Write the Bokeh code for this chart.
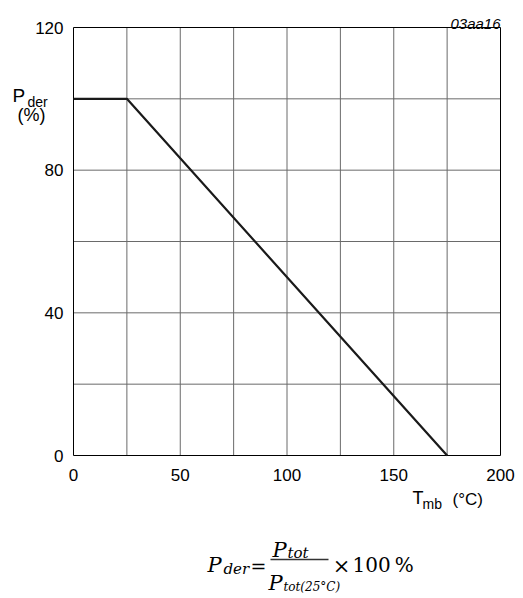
from bokeh.plotting import figure
from bokeh.models import Range1d, Label
from bokeh.embed import file_html
from bokeh.resources import INLINE
from bokeh.core.properties import value

# ---- data ----
temp_mb = [0, 25, 175]          # T_mb (°C)
p_der = [100, 100, 0]           # P_der (%)
x_ticks = [0, 50, 100, 150, 200]
y_ticks = [0, 40, 80, 120]
x_tick_labels = ["0", "50", "100", "150", "200"]
y_tick_labels = ["0", "40", "80", "120"]
x_grid = [25, 50, 75, 100, 125, 150, 175]
y_grid = [20, 40, 60, 80, 100]
x_min, x_max = 0, 200
y_min, y_max = 0, 120

SANS = "Liberation Sans"
SERIF = "DejaVu Serif"

OFF = 0          # page offset of the canvas
W, H = 523, 598
FL, FR, FT, FB = 73, 500, 27, 455   # frame in page px
sx = (FR - FL) / (x_max - x_min)
sy = (FB - FT) / (y_max - y_min)
X0 = FL - OFF
Y0 = FB - OFF

p = figure(width=W, height=H, output_backend="svg", toolbar_location=None,
           x_range=Range1d(x_min - X0 / sx, x_min + (W - X0) / sx),
           y_range=Range1d(y_min - (H - Y0) / sy, y_min + Y0 / sy),
           x_axis_type=None, y_axis_type=None, min_border=0)
p.outline_line_color = None
p.grid.visible = False
p.background_fill_color = "white"
p.border_fill_color = "white"


def dx(px):
    return x_min + (px - FL) / sx


def dy(py):
    return y_min + (FB - py) / sy


# grid
p.segment(x0=x_grid, y0=[y_min] * len(x_grid), x1=x_grid, y1=[y_max] * len(x_grid),
          line_color="#6a6a6a", line_width=1)
p.segment(x0=[x_min] * len(y_grid), y0=y_grid, x1=[x_max] * len(y_grid), y1=y_grid,
          line_color="#6a6a6a", line_width=1)
# frame
p.quad(left=[x_min], right=[x_max], bottom=[y_min], top=[y_max],
       fill_color=None, line_color="black", line_width=1)
# curve
p.line(temp_mb, p_der, line_color="#1a1a1a", line_width=2.2)

# tick labels
p.text(x=x_ticks, y=[dy(474)] * len(x_ticks), text=x_tick_labels,
       text_font=value(SANS), text_font_size="17px", text_align="center",
       text_baseline="middle", text_color="black")
p.text(x=[dx(63)] * len(y_ticks), y=y_ticks, text=y_tick_labels,
       text_font=value(SANS), text_font_size="17px", text_align="right",
       text_baseline="middle", text_color="black")


def lab(x, y, text, size, font=SANS, style="normal", align="left"):
    p.add_layout(Label(x=dx(x), y=dy(y), text=text, text_font=font, text_font_size=size,
                       text_font_style=style, text_align=align, text_baseline="alphabetic",
                       text_color="black"))


lab(500, 23, "03aa16", "15px", style="italic", align="right")
lab(12, 95, "P", "19px")
lab(27, 101, "der", "14px")
lab(31, 114, "(%)", "18px", align="center")
lab(412, 497, "T", "18px")
lab(422, 503, "mb", "14px")
lab(452, 499, "(\u00b0C)", "17px")

# formula
lab(207, 564, "P", "21px", font=SERIF, style="italic")
lab(223, 568, "der", "15px", font=SERIF, style="italic")
lab(258, 565, "=", "19px", font=SERIF, align="center")
lab(272, 549, "P", "21px", font=SERIF, style="italic")
lab(287, 552, "tot", "15px", font=SERIF, style="italic")
p.line([dx(270), dx(328)], [dy(559), dy(559)], line_color="#333333", line_width=1.5)
lab(268, 582, "P", "21px", font=SERIF, style="italic")
lab(283, 586, "tot(25\u00b0C)", "12px", font=SERIF, style="italic")
lab(341, 565, "\u00d7", "21px", font=SERIF, align="center")
lab(352, 564, "100\u2009%", "20px", font=SERIF)

open("out.html", "w").write(file_html(p, INLINE))
